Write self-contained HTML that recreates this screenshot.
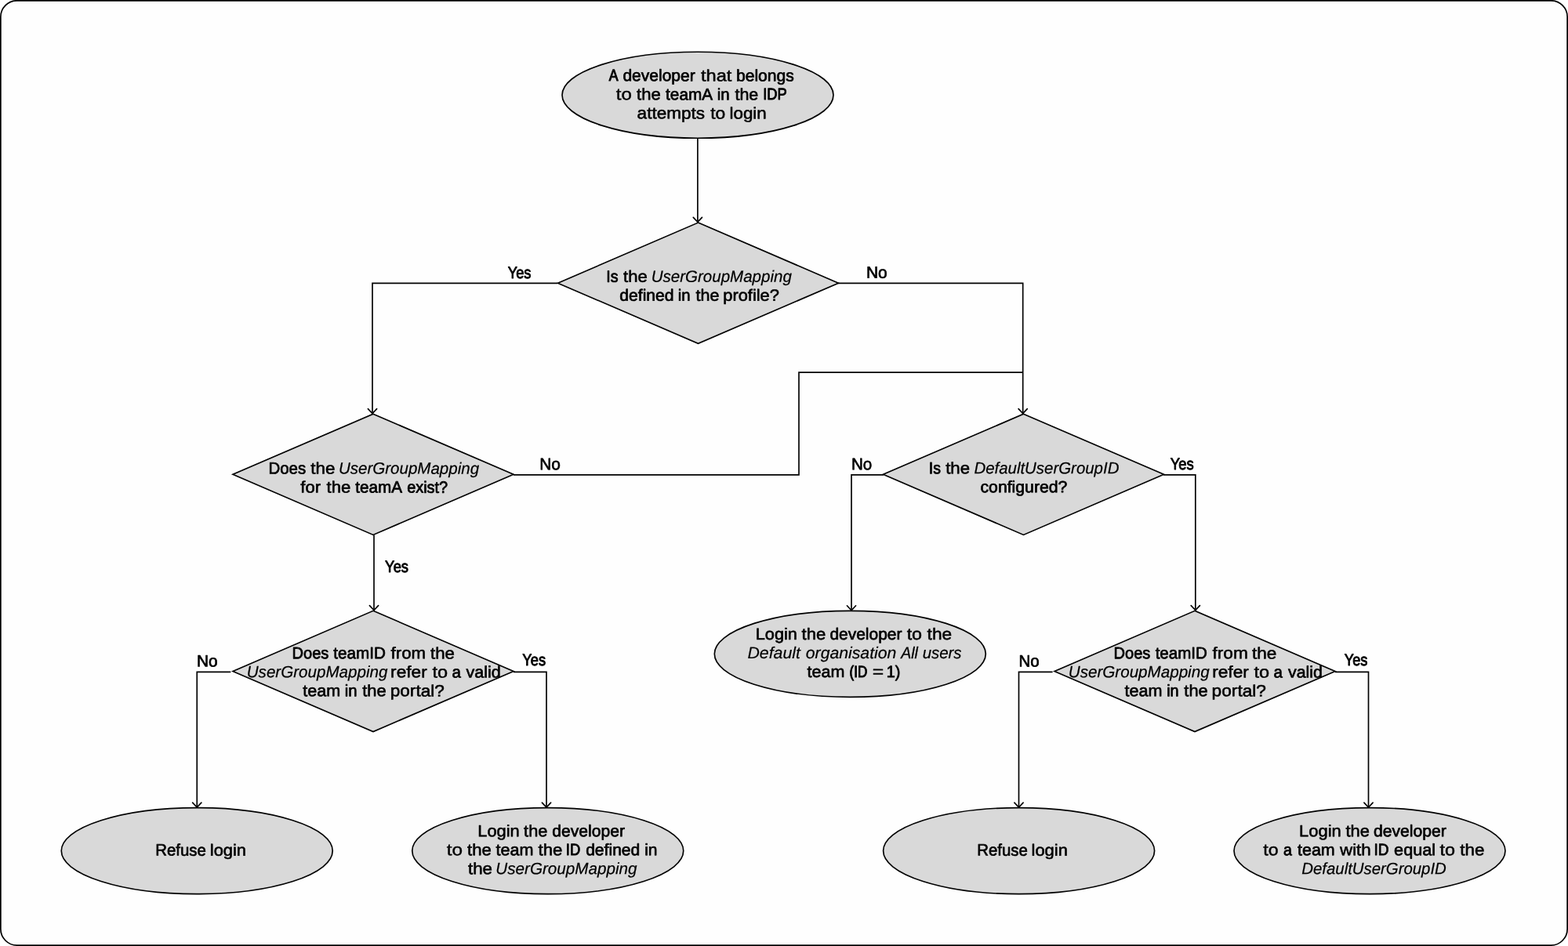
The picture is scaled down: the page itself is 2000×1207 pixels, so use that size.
<!DOCTYPE html>
<html lang="en"><head><meta charset="utf-8"><title>Developer login flow</title>
<style>
html,body{margin:0;padding:0;background:#fff;}
body{width:2000px;height:1207px;overflow:hidden;}
svg{display:block;will-change:transform;}
.s{fill:#d9d9d9;stroke:#000;stroke-width:1.67;}
.l{fill:none;stroke:#000;stroke-width:1.67;stroke-linejoin:miter;}
.a{fill:none;stroke:#000;stroke-width:1.67;stroke-linecap:round;stroke-linejoin:miter;}
text{font-family:"Liberation Sans",sans-serif;font-size:20.8px;fill:#000;white-space:pre;}
.r{stroke:#000;stroke-width:0.7px;stroke-linejoin:round;}
.lb{font-size:21px;}
.i{font-style:italic;stroke:#000;stroke-width:0.2px;stroke-linejoin:round;}
</style></head><body>
<svg width="2000" height="1207" viewBox="0 0 2000 1207">
<rect x="0" y="0" width="2000" height="1207" fill="#fff"/>
<rect x="0.85" y="0.8" width="1998.3" height="1205.3" rx="20.8" ry="20.8" fill="#fefefe" stroke="#000" stroke-width="1.7"/>
<g id="lines">
<path class="l" d="M889.88 176.5 L889.88 283.3"/>
<path class="a" d="M884.28 277.4 L889.88 283.3 L895.48 277.4"/>
<path class="l" d="M711 361.3 L475 361.3 L475 527.5"/>
<path class="a" d="M469.4 521.6 L475 527.5 L480.6 521.6"/>
<path class="l" d="M1069 361.3 L1304.7 361.3 L1304.7 527.5"/>
<path class="a" d="M1299.1 521.6 L1304.7 527.5 L1310.3 521.6"/>
<path class="l" d="M655 605.95 L1019 605.95 L1019 475.2 L1304.7 475.2"/>
<path class="l" d="M477 682.5 L477 778.5"/>
<path class="a" d="M471.4 772.6 L477 778.5 L482.6 772.6"/>
<path class="l" d="M1127 605.95 L1086 605.95 L1086 778.7"/>
<path class="a" d="M1080.4 772.8 L1086 778.7 L1091.6 772.8"/>
<path class="l" d="M1484 605.95 L1524.8 605.95 L1524.8 778.5"/>
<path class="a" d="M1519.2 772.6 L1524.8 778.5 L1530.4 772.6"/>
<path class="l" d="M294.3 857.4 L251.25 857.4 L251.25 1030"/>
<path class="a" d="M245.65 1024.1 L251.25 1030 L256.85 1024.1"/>
<path class="l" d="M655 857.4 L697 857.4 L697 1030"/>
<path class="a" d="M691.4 1024.1 L697 1030 L702.6 1024.1"/>
<path class="l" d="M1342.6 857.4 L1299.5 857.4 L1299.5 1030"/>
<path class="a" d="M1293.9 1024.1 L1299.5 1030 L1305.1 1024.1"/>
<path class="l" d="M1703 857.4 L1745.5 857.4 L1745.5 1030"/>
<path class="a" d="M1739.9 1024.1 L1745.5 1030 L1751.1 1024.1"/>
</g>
<g id="shapes">
<ellipse class="s" cx="890" cy="121.25" rx="173.0" ry="55.0"/>
<ellipse class="s" cx="1084.3" cy="834.3" rx="173.0" ry="55.0"/>
<ellipse class="s" cx="251.25" cy="1085.6" rx="173.0" ry="55.0"/>
<ellipse class="s" cx="698.75" cy="1085.6" rx="173.0" ry="55.0"/>
<ellipse class="s" cx="1299.6" cy="1085.6" rx="173.0" ry="55.0"/>
<ellipse class="s" cx="1747" cy="1085.6" rx="173.0" ry="55.0"/>
<path class="s" d="M890.5 284.1 L1069.5 361.2 L890.5 438.3 L711.5 361.2 Z"/>
<path class="s" d="M476 528.2 L655 605.3 L476 682.4 L297 605.3 Z"/>
<path class="s" d="M1305.5 528.2 L1484.5 605.3 L1305.5 682.4 L1126.5 605.3 Z"/>
<path class="s" d="M476 779.3 L655 856.4 L476 933.5 L297 856.4 Z"/>
<path class="s" d="M1524 779.3 L1703 856.4 L1524 933.5 L1345 856.4 Z"/>
</g>
<g id="labels">
<text y="103.4" transform="rotate(0.03 894.7 103.4)"><tspan id="t0" class="r" x="776.86" textLength="10.8" lengthAdjust="spacingAndGlyphs" style="stroke-width:1.1px">A</tspan> <tspan id="t1" class="r" x="794.43" textLength="92.32" lengthAdjust="spacingAndGlyphs">developer</tspan> <tspan id="t2" class="r" x="893.93" textLength="39.48" lengthAdjust="spacingAndGlyphs" style="stroke-width:0.45px">that</tspan> <tspan id="t3" class="r" x="938.93" textLength="73.94" lengthAdjust="spacingAndGlyphs">belongs</tspan></text>
<text y="127.4" transform="rotate(0.03 894.45 127.4)"><tspan id="t4" class="r" x="785.78" textLength="20.11" lengthAdjust="spacingAndGlyphs" style="stroke-width:0.41px">to</tspan> <tspan id="t5" class="r" x="812.09" textLength="30.73" lengthAdjust="spacingAndGlyphs" style="stroke-width:0.59px">the</tspan> <tspan id="t6" class="r" x="849.1" textLength="58.85" lengthAdjust="spacingAndGlyphs">teamA</tspan> <tspan id="t7" class="r" x="914.72" textLength="15.93" lengthAdjust="spacingAndGlyphs">in</tspan> <tspan id="t8" class="r" x="937.45" textLength="29.84" lengthAdjust="spacingAndGlyphs" style="stroke-width:0.64px">the</tspan> <tspan id="t9" class="r" x="973.19" textLength="30.57" lengthAdjust="spacingAndGlyphs" style="stroke-width:0.91px">IDP</tspan></text>
<text y="151.4" transform="rotate(0.03 894.9 151.4)"><tspan id="t10" class="r" x="812.61" textLength="86.41" lengthAdjust="spacingAndGlyphs" style="stroke-width:0.55px">attempts</tspan> <tspan id="t11" class="r" x="906.23" textLength="19.02" lengthAdjust="spacingAndGlyphs" style="stroke-width:0.53px">to</tspan> <tspan id="t12" class="r" x="930.49" textLength="47.25" lengthAdjust="spacingAndGlyphs" style="stroke-width:0.56px">login</tspan></text>
<text y="359.75" transform="rotate(0.03 892.1 359.75)"><tspan id="t13" class="r" x="773.33" textLength="15.3" lengthAdjust="spacingAndGlyphs" style="stroke-width:0.8px">Is</tspan> <tspan id="t14" class="r" x="795.06" textLength="30.7" lengthAdjust="spacingAndGlyphs" style="stroke-width:0.59px">the</tspan> <tspan id="t15" class="i" x="830.75" textLength="179.09" lengthAdjust="spacingAndGlyphs">UserGroupMapping</tspan></text>
<text y="383.75" transform="rotate(0.03 892.1 383.75)"><tspan id="t16" class="r" x="790.3" textLength="69.28" lengthAdjust="spacingAndGlyphs">defined</tspan> <tspan id="t17" class="r" x="864.66" textLength="15.83" lengthAdjust="spacingAndGlyphs">in</tspan> <tspan id="t18" class="r" x="887.53" textLength="29.89" lengthAdjust="spacingAndGlyphs" style="stroke-width:0.64px">the</tspan> <tspan id="t19" class="r" x="922.28" textLength="71.65" lengthAdjust="spacingAndGlyphs" style="stroke-width:0.61px">profile?</tspan></text>
<text y="354.7" transform="rotate(0.03 662.38 354.7)"><tspan id="t20" class="r lb" x="647.71" textLength="29.75" lengthAdjust="spacingAndGlyphs" style="stroke-width:0.94px">Yes</tspan></text>
<text y="354.7" transform="rotate(0.03 1118.58 354.7)"><tspan id="t21" class="r lb" x="1104.91" textLength="26.84" lengthAdjust="spacingAndGlyphs">No</tspan></text>
<text y="604.6" transform="rotate(0.03 477.4 604.6)"><tspan id="t22" class="r" x="342.44" textLength="47.8" lengthAdjust="spacingAndGlyphs">Does</tspan> <tspan id="t23" class="r" x="396.22" textLength="31.12" lengthAdjust="spacingAndGlyphs" style="stroke-width:0.56px">the</tspan> <tspan id="t24" class="i" x="431.88" textLength="179.22" lengthAdjust="spacingAndGlyphs">UserGroupMapping</tspan></text>
<text y="628.6" transform="rotate(0.03 477.1 628.6)"><tspan id="t25" class="r" x="383.36" textLength="25.67" lengthAdjust="spacingAndGlyphs" style="stroke-width:0.6px">for</tspan> <tspan id="t26" class="r" x="416.49" textLength="30.79" lengthAdjust="spacingAndGlyphs" style="stroke-width:0.58px">the</tspan> <tspan id="t27" class="r" x="453.24" textLength="58.65" lengthAdjust="spacingAndGlyphs" style="stroke-width:0.74px">teamA</tspan> <tspan id="t28" class="r" x="519.17" textLength="51.99" lengthAdjust="spacingAndGlyphs" style="stroke-width:0.78px">exist?</tspan></text>
<text y="729.6" transform="rotate(0.03 505.8 729.6)"><tspan id="t29" class="r lb" x="491.11" textLength="29.9" lengthAdjust="spacingAndGlyphs" style="stroke-width:0.93px">Yes</tspan></text>
<text y="599.2" transform="rotate(0.03 701.9 599.2)"><tspan id="t30" class="r lb" x="688.22" textLength="26.69" lengthAdjust="spacingAndGlyphs">No</tspan></text>
<text y="604.25" transform="rotate(0.03 1306.5 604.25)"><tspan id="t31" class="r" x="1184.84" textLength="15.16" lengthAdjust="spacingAndGlyphs" style="stroke-width:0.81px">Is</tspan> <tspan id="t32" class="r" x="1206.17" textLength="30.91" lengthAdjust="spacingAndGlyphs" style="stroke-width:0.58px">the</tspan> <tspan id="t33" class="i" x="1242.44" textLength="184.94" lengthAdjust="spacingAndGlyphs">DefaultUserGroupID</tspan></text>
<text y="628.25" transform="rotate(0.03 1306 628.25)"><tspan id="t34" class="r" x="1250.48" textLength="110.93" lengthAdjust="spacingAndGlyphs">configured?</tspan></text>
<text y="599.2" transform="rotate(0.03 1099.45 599.2)"><tspan id="t35" class="r lb" x="1085.88" textLength="26.27" lengthAdjust="spacingAndGlyphs">No</tspan></text>
<text y="599" transform="rotate(0.03 1507.5 599)"><tspan id="t36" class="r lb" x="1492.7" textLength="30.02" lengthAdjust="spacingAndGlyphs" style="stroke-width:0.92px">Yes</tspan></text>
<text y="840.35" transform="rotate(0.03 476.55 840.35)"><tspan id="t37" class="r" x="372.53" textLength="46.87" lengthAdjust="spacingAndGlyphs" style="stroke-width:0.76px">Does</tspan> <tspan id="t38" class="r" x="425.28" textLength="66.57" lengthAdjust="spacingAndGlyphs">teamID</tspan> <tspan id="t39" class="r" x="498.49" textLength="44.71" lengthAdjust="spacingAndGlyphs" style="stroke-width:0.57px">from</tspan> <tspan id="t40" class="r" x="549.03" textLength="30.91" lengthAdjust="spacingAndGlyphs" style="stroke-width:0.58px">the</tspan></text>
<text y="864.35" transform="rotate(0.03 476.95 864.35)"><tspan id="t41" class="i" x="314.75" textLength="179.61" lengthAdjust="spacingAndGlyphs">UserGroupMapping</tspan> <tspan id="t42" class="r" x="498.12" textLength="46.62" lengthAdjust="spacingAndGlyphs" style="stroke-width:0.54px">refer</tspan> <tspan id="t43" class="r" x="551.54" textLength="19.65" lengthAdjust="spacingAndGlyphs" style="stroke-width:0.46px">to</tspan> <tspan id="t44" class="r" x="576.57" textLength="11.41" lengthAdjust="spacingAndGlyphs">a</tspan> <tspan id="t45" class="r" x="594.47" textLength="44.26" lengthAdjust="spacingAndGlyphs" style="stroke-width:0.64px">valid</tspan></text>
<text y="888.35" transform="rotate(0.03 476.35 888.35)"><tspan id="t46" class="r" x="386.24" textLength="47.95" lengthAdjust="spacingAndGlyphs" style="stroke-width:0.63px">team</tspan> <tspan id="t47" class="r" x="439.75" textLength="15.76" lengthAdjust="spacingAndGlyphs" style="stroke-width:0.75px">in</tspan> <tspan id="t48" class="r" x="462.24" textLength="30.49" lengthAdjust="spacingAndGlyphs" style="stroke-width:0.6px">the</tspan> <tspan id="t49" class="r" x="497.77" textLength="69" lengthAdjust="spacingAndGlyphs" style="stroke-width:0.55px">portal?</tspan></text>
<text y="850.45" transform="rotate(0.03 264.85 850.45)"><tspan id="t50" class="r lb" x="250.92" textLength="26.68" lengthAdjust="spacingAndGlyphs">No</tspan></text>
<text y="848.7" transform="rotate(0.03 681.25 848.7)"><tspan id="t51" class="r lb" x="666.37" textLength="29.69" lengthAdjust="spacingAndGlyphs" style="stroke-width:0.94px">Yes</tspan></text>
<text y="840.35" transform="rotate(0.03 1524.65 840.35)"><tspan id="t52" class="r" x="1420.51" textLength="46.81" lengthAdjust="spacingAndGlyphs" style="stroke-width:0.76px">Does</tspan> <tspan id="t53" class="r" x="1473.63" textLength="66.19" lengthAdjust="spacingAndGlyphs">teamID</tspan> <tspan id="t54" class="r" x="1546.46" textLength="45.36" lengthAdjust="spacingAndGlyphs" style="stroke-width:0.54px">from</tspan> <tspan id="t55" class="r" x="1596.98" textLength="31.41" lengthAdjust="spacingAndGlyphs" style="stroke-width:0.55px">the</tspan></text>
<text y="864.35" transform="rotate(0.03 1525.05 864.35)"><tspan id="t56" class="i" x="1362.75" textLength="179.88" lengthAdjust="spacingAndGlyphs">UserGroupMapping</tspan> <tspan id="t57" class="r" x="1546.15" textLength="46.73" lengthAdjust="spacingAndGlyphs" style="stroke-width:0.53px">refer</tspan> <tspan id="t58" class="r" x="1599.5" textLength="19.64" lengthAdjust="spacingAndGlyphs" style="stroke-width:0.46px">to</tspan> <tspan id="t59" class="r" x="1624.48" textLength="11.4" lengthAdjust="spacingAndGlyphs">a</tspan> <tspan id="t60" class="r" x="1642.96" textLength="43.93" lengthAdjust="spacingAndGlyphs" style="stroke-width:0.65px">valid</tspan></text>
<text y="888.35" transform="rotate(0.03 1524.45 888.35)"><tspan id="t61" class="r" x="1434.43" textLength="48.06" lengthAdjust="spacingAndGlyphs" style="stroke-width:0.63px">team</tspan> <tspan id="t62" class="r" x="1488.16" textLength="15.4" lengthAdjust="spacingAndGlyphs" style="stroke-width:0.79px">in</tspan> <tspan id="t63" class="r" x="1510.39" textLength="30.27" lengthAdjust="spacingAndGlyphs" style="stroke-width:0.62px">the</tspan> <tspan id="t64" class="r" x="1545.64" textLength="69.36" lengthAdjust="spacingAndGlyphs" style="stroke-width:0.54px">portal?</tspan></text>
<text y="850.45" transform="rotate(0.03 1312.95 850.45)"><tspan id="t65" class="r lb" x="1299.41" textLength="26.22" lengthAdjust="spacingAndGlyphs" style="stroke-width:0.74px">No</tspan></text>
<text y="848.7" transform="rotate(0.03 1729.35 848.7)"><tspan id="t66" class="r lb" x="1714.73" textLength="29.53" lengthAdjust="spacingAndGlyphs" style="stroke-width:0.95px">Yes</tspan></text>
<text y="816" transform="rotate(0.03 1089.3 816)"><tspan id="t67" class="r" x="963.75" textLength="53.13" lengthAdjust="spacingAndGlyphs" style="stroke-width:0.62px">Login</tspan> <tspan id="t68" class="r" x="1022.61" textLength="30.72" lengthAdjust="spacingAndGlyphs" style="stroke-width:0.59px">the</tspan> <tspan id="t69" class="r" x="1058.48" textLength="91.96" lengthAdjust="spacingAndGlyphs">developer</tspan> <tspan id="t70" class="r" x="1156.65" textLength="19.46" lengthAdjust="spacingAndGlyphs" style="stroke-width:0.48px">to</tspan> <tspan id="t71" class="r" x="1182.62" textLength="31.54" lengthAdjust="spacingAndGlyphs" style="stroke-width:0.54px">the</tspan></text>
<text y="840" transform="rotate(0.03 1090 840)"><tspan id="t72" class="i" x="953.47" textLength="67.5" lengthAdjust="spacingAndGlyphs" style="stroke-width:0.16px">Default</tspan> <tspan id="t73" class="i" x="1027.78" textLength="115.61" lengthAdjust="spacingAndGlyphs">organisation</tspan> <tspan id="t74" class="i" x="1149.27" textLength="21.6" lengthAdjust="spacingAndGlyphs" style="stroke-width:0.32px">All</tspan> <tspan id="t75" class="i" x="1176.66" textLength="49.92" lengthAdjust="spacingAndGlyphs">users</tspan></text>
<text y="864" transform="rotate(0.03 1088.5 864)"><tspan id="t76" class="r" x="1029.62" textLength="47.83" lengthAdjust="spacingAndGlyphs" style="stroke-width:0.64px">team</tspan> <tspan id="t77" class="r" x="1083.55" textLength="22.76" lengthAdjust="spacingAndGlyphs" style="stroke-width:1.02px">(ID</tspan> <tspan id="t78" class="r" x="1112.68" textLength="14.51" lengthAdjust="spacingAndGlyphs" style="stroke-width:0.35px">=</tspan> <tspan id="t79" class="r" x="1130.68" textLength="17.63" lengthAdjust="spacingAndGlyphs" style="stroke-width:0.78px">1)</tspan></text>
<text y="1091.65" transform="rotate(0.03 256 1091.65)"><tspan id="t80" class="r" x="198.22" textLength="64.54" lengthAdjust="spacingAndGlyphs">Refuse</tspan> <tspan id="t81" class="r" x="267.78" textLength="46.24" lengthAdjust="spacingAndGlyphs" style="stroke-width:0.61px">login</tspan></text>
<text y="1091.65" transform="rotate(0.03 1304.12 1091.65)"><tspan id="t82" class="r" x="1246.22" textLength="64.54" lengthAdjust="spacingAndGlyphs">Refuse</tspan> <tspan id="t83" class="r" x="1315.57" textLength="46.31" lengthAdjust="spacingAndGlyphs" style="stroke-width:0.6px">login</tspan></text>
<text y="1067.25" transform="rotate(0.03 703.6 1067.25)"><tspan id="t84" class="r" x="609.24" textLength="53.43" lengthAdjust="spacingAndGlyphs" style="stroke-width:0.61px">Login</tspan> <tspan id="t85" class="r" x="668.11" textLength="30.34" lengthAdjust="spacingAndGlyphs" style="stroke-width:0.61px">the</tspan> <tspan id="t86" class="r" x="704.35" textLength="92.59" lengthAdjust="spacingAndGlyphs">developer</tspan></text>
<text y="1091.25" transform="rotate(0.03 703.65 1091.25)"><tspan id="t87" class="r" x="569.82" textLength="20.35" lengthAdjust="spacingAndGlyphs" style="stroke-width:0.39px">to</tspan> <tspan id="t88" class="r" x="596.01" textLength="30.75" lengthAdjust="spacingAndGlyphs" style="stroke-width:0.59px">the</tspan> <tspan id="t89" class="r" x="632.51" textLength="48.02" lengthAdjust="spacingAndGlyphs" style="stroke-width:0.63px">team</tspan> <tspan id="t90" class="r" x="686.51" textLength="30.86" lengthAdjust="spacingAndGlyphs" style="stroke-width:0.58px">the</tspan> <tspan id="t91" class="r" x="721.82" textLength="18.36" lengthAdjust="spacingAndGlyphs" style="stroke-width:0.91px">ID</tspan> <tspan id="t92" class="r" x="747.15" textLength="69.16" lengthAdjust="spacingAndGlyphs">defined</tspan> <tspan id="t93" class="r" x="822.15" textLength="16.36" lengthAdjust="spacingAndGlyphs">in</tspan></text>
<text y="1115.25" transform="rotate(0.03 704.4 1115.25)"><tspan id="t94" class="r" x="596.96" textLength="31.06" lengthAdjust="spacingAndGlyphs" style="stroke-width:0.57px">the</tspan> <tspan id="t95" class="i" x="632.35" textLength="180.1" lengthAdjust="spacingAndGlyphs">UserGroupMapping</tspan></text>
<text y="1067.25" transform="rotate(0.03 1751.8 1067.25)"><tspan id="t96" class="r" x="1657.13" textLength="53.55" lengthAdjust="spacingAndGlyphs" style="stroke-width:0.61px">Login</tspan> <tspan id="t97" class="r" x="1716.44" textLength="30.36" lengthAdjust="spacingAndGlyphs" style="stroke-width:0.61px">the</tspan> <tspan id="t98" class="r" x="1752.02" textLength="92.81" lengthAdjust="spacingAndGlyphs">developer</tspan></text>
<text y="1091.25" transform="rotate(0.03 1752 1091.25)"><tspan id="t99" class="r" x="1611.39" textLength="19.28" lengthAdjust="spacingAndGlyphs" style="stroke-width:0.5px">to</tspan> <tspan id="t100" class="r" x="1637" textLength="10.85" lengthAdjust="spacingAndGlyphs" style="stroke-width:0.81px">a</tspan> <tspan id="t101" class="r" x="1655.06" textLength="47.63" lengthAdjust="spacingAndGlyphs" style="stroke-width:0.65px">team</tspan> <tspan id="t102" class="r" x="1709.03" textLength="39.69" lengthAdjust="spacingAndGlyphs" style="stroke-width:0.57px">with</tspan> <tspan id="t103" class="r" x="1752.51" textLength="19.02" lengthAdjust="spacingAndGlyphs" style="stroke-width:0.86px">ID</tspan> <tspan id="t104" class="r" x="1778.13" textLength="52.99" lengthAdjust="spacingAndGlyphs" style="stroke-width:0.63px">equal</tspan> <tspan id="t105" class="r" x="1836.53" textLength="19.49" lengthAdjust="spacingAndGlyphs" style="stroke-width:0.48px">to</tspan> <tspan id="t106" class="r" x="1862.33" textLength="31.15" lengthAdjust="spacingAndGlyphs" style="stroke-width:0.56px">the</tspan></text>
<text y="1115.3" transform="rotate(0.03 1752.7 1115.3)"><tspan id="t107" class="i" x="1660.28" textLength="184.56" lengthAdjust="spacingAndGlyphs">DefaultUserGroupID</tspan></text>
</g>
</svg>
</body></html>
